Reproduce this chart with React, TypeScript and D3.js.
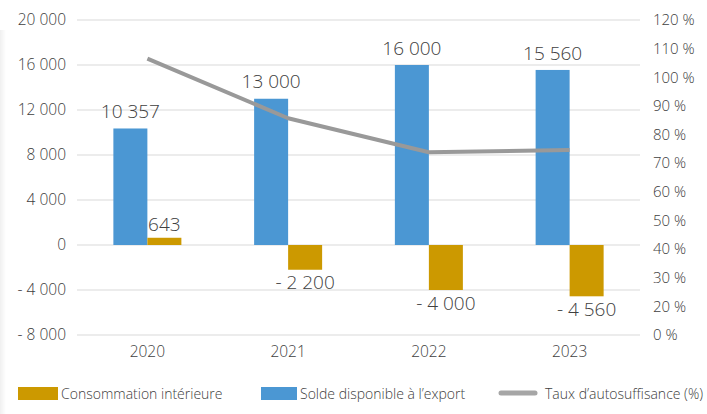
import { useEffect, useRef } from 'react'
import * as d3 from 'd3'

const YEARS = ['2020', '2021', '2022', '2023']
const SOLDE_EXPORT = [10357, 13000, 16000, 15560]
const CONSO_INT = [643, -2200, -4000, -4560]
const TAUX = [1.065, 0.857, 0.738, 0.746]
const LEFT_TICKS = [-8000, -4000, 0, 4000, 8000, 12000, 16000, 20000]
// the right axis runs in even steps; its lowest step is labelled "0 %"
const RIGHT_TICKS = [0.1, 0.2, 0.3, 0.4, 0.5, 0.6, 0.7, 0.8, 0.9, 1.0, 1.1, 1.2]
const RIGHT_LABELS = ['0 %', '20 %', '30 %', '40 %', '50 %', '60 %', '70 %', '80 %', '90 %', '100 %', '110 %', '120 %']

const W = 707
const H = 414
const PLOT = { left: 77, right: 640, top: 20, bottom: 335 }
const BLUE = '#4B97D3'
const GOLD = '#CC9900'
const GREY = '#999999'
const TEXT = '#404040'
const FONT = '"Open Sans", Lato, sans-serif'

const fmt = (v: number) => {
  const s = d3.format(',')(Math.abs(v)).replace(/,/g, ' ')
  return v < 0 ? `- ${s}` : s
}

export default function App() {
  const svgRef = useRef<SVGSVGElement>(null)

  useEffect(() => {
    if (!svgRef.current) return
    const svg = d3.select(svgRef.current)
    svg.selectAll('*').remove()

    const y = d3.scaleLinear().domain([-8000, 20000]).range([PLOT.bottom, PLOT.top])
    const yR = d3.scaleLinear().domain([0.1, 1.2]).range([PLOT.bottom, PLOT.top])
    const step = (PLOT.right - PLOT.left) / YEARS.length
    const pad = 1 - 68 / step
    const x = d3.scaleBand().domain(YEARS).range([PLOT.left, PLOT.right])
      .paddingInner(pad).paddingOuter(pad / 2)
    const x1 = d3.scaleBand().domain(['solde', 'conso']).range([0, x.bandwidth()])
    const cx = (yr: string) => (x(yr) ?? 0) + x.bandwidth() / 2

    // faint card shadow on the left edge
    const defs = svg.append('defs')
    const sh = defs.append('linearGradient').attr('id', 'sh').attr('x1', '0').attr('x2', '1')
    sh.append('stop').attr('offset', '0%').attr('stop-color', '#000').attr('stop-opacity', 0.06)
    sh.append('stop').attr('offset', '100%').attr('stop-color', '#000').attr('stop-opacity', 0)
    svg.append('rect').attr('x', 0).attr('y', 30).attr('width', 6).attr('height', 384).attr('fill', 'url(#sh)')

    // gridlines
    svg.append('g').selectAll('line').data(LEFT_TICKS).join('line')
      .attr('x1', PLOT.left).attr('x2', PLOT.right)
      .attr('y1', d => y(d)).attr('y2', d => y(d))
      .attr('stroke', '#D9D9D9').attr('stroke-width', 1)

    // left axis labels
    svg.append('g').selectAll('text').data(LEFT_TICKS).join('text')
      .attr('x', 66).attr('y', d => y(d)).attr('dy', '0.35em')
      .attr('text-anchor', 'end').attr('font-size', 15.5).attr('fill', TEXT)
      .attr('font-family', FONT).attr('font-weight', 300)
      .text(d => fmt(d))

    // right axis labels
    svg.append('g').selectAll('text').data(RIGHT_TICKS).join('text')
      .attr('x', 653).attr('y', d => yR(d)).attr('dy', '0.35em')
      .attr('font-size', 15).attr('fill', TEXT)
      .attr('font-family', FONT).attr('font-weight', 300)
      .text((_, i) => RIGHT_LABELS[i])

    // year labels
    svg.append('g').selectAll('text').data(YEARS).join('text')
      .attr('x', d => cx(d)).attr('y', 352).attr('dy', '0.35em')
      .attr('text-anchor', 'middle').attr('font-size', 15.5).attr('fill', TEXT)
      .attr('font-family', FONT).attr('font-weight', 300)
      .text(d => d)

    const rows = YEARS.map((yr, i) => ({ yr, solde: SOLDE_EXPORT[i], conso: CONSO_INT[i], taux: TAUX[i] }))

    // bars
    const g = svg.append('g')
    g.selectAll('rect.solde').data(rows).join('rect').attr('class', 'solde')
      .attr('x', d => (x(d.yr) ?? 0) + (x1('solde') ?? 0))
      .attr('width', x1.bandwidth())
      .attr('y', d => y(Math.max(0, d.solde)))
      .attr('height', d => Math.abs(y(d.solde) - y(0)))
      .attr('fill', BLUE)
    g.selectAll('rect.conso').data(rows).join('rect').attr('class', 'conso')
      .attr('x', d => (x(d.yr) ?? 0) + (x1('conso') ?? 0))
      .attr('width', x1.bandwidth())
      .attr('y', d => y(Math.max(0, d.conso)))
      .attr('height', d => Math.abs(y(d.conso) - y(0)))
      .attr('fill', GOLD)

    // line
    const line = d3.line<typeof rows[0]>().x(d => cx(d.yr)).y(d => yR(d.taux))
    svg.append('path').datum(rows)
      .attr('d', line).attr('fill', 'none')
      .attr('stroke', GREY).attr('stroke-width', 4).attr('stroke-linejoin', 'round')

    // data labels
    const lab = svg.append('g').attr('font-family', FONT).attr('font-weight', 300)
      .attr('font-size', 19).attr('fill', TEXT).attr('text-anchor', 'middle')
    lab.selectAll('text.s').data(rows).join('text').attr('class', 's')
      .attr('x', d => (x(d.yr) ?? 0) + (x1('solde') ?? 0) + x1.bandwidth() / 2)
      .attr('y', d => y(d.solde) - 17).attr('dy', '0.35em')
      .text(d => fmt(d.solde))
    lab.selectAll('text.c').data(rows).join('text').attr('class', 'c')
      .attr('x', d => (x(d.yr) ?? 0) + (x1('conso') ?? 0) + x1.bandwidth() / 2)
      .attr('y', d => d.conso >= 0 ? y(d.conso) - 13 : y(d.conso) + 13).attr('dy', '0.35em')
      .text(d => fmt(d.conso))

    // legend
    const leg = svg.append('g').attr('font-family', FONT).attr('font-size', 14)
      .attr('fill', TEXT).attr('font-weight', 300)
    leg.append('rect').attr('x', 18).attr('y', 387).attr('width', 40).attr('height', 13).attr('fill', GOLD)
    leg.append('text').attr('x', 61).attr('y', 394).attr('dy', '0.35em').text('Consommation intérieure')
    leg.append('rect').attr('x', 261).attr('y', 387).attr('width', 36).attr('height', 13).attr('fill', BLUE)
    leg.append('text').attr('x', 300).attr('y', 394).attr('dy', '0.35em').text('Solde disponible à l’export')
    leg.append('line').attr('x1', 501).attr('x2', 535).attr('y1', 393).attr('y2', 393)
      .attr('stroke', '#A6A6A6').attr('stroke-width', 5).attr('stroke-linecap', 'round')
    leg.append('text').attr('x', 545).attr('y', 394).attr('dy', '0.35em').text('Taux d’autosuffisance (%)')
  }, [])

  return (
    <div style={{ position: 'fixed', left: 0, top: 0, width: W, height: H, background: '#fff' }}>
      <svg ref={svgRef} width={W} height={H} style={{ display: 'block' }} />
    </div>
  )
}
